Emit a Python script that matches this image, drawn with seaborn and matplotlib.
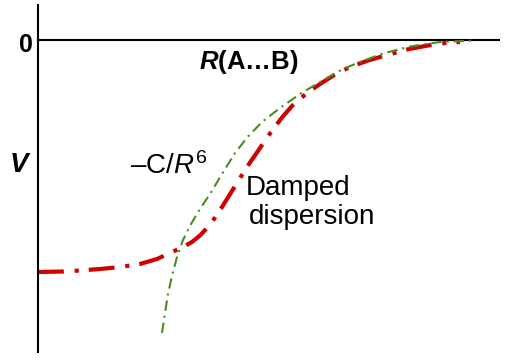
import matplotlib
matplotlib.use("Agg")
import matplotlib.pyplot as plt
import seaborn as sns
import pandas as pd

# ---- data (arbitrary units: R along x, V along y, zero at the horizontal line) ----
damped_R = [0, 2.5, 4.2, 6.2, 8.2, 10.2, 11.9, 13.2, 14.5, 15.4, 16.2, 16.9, 17.4,
            18.4, 19.4, 20.4, 21.2, 22.0, 22.8, 23.6, 24.4, 25.4, 26.9, 28.2, 29.7,
            31.2, 33.0, 34.9, 36.9, 38.7, 40.2, 42.2]
damped_V = [-23.25, -23.2, -23.1, -22.95, -22.75, -22.45, -21.95, -21.35, -20.75,
            -20.25, -19.6, -18.85, -18.25, -16.75, -15.15, -13.55, -12.3, -11.15,
            -9.95, -8.85, -7.8, -6.65, -5.35, -4.45, -3.5, -2.75, -2.1, -1.55,
            -1.0, -0.65, -0.4, -0.25]
c6_R = [12.4, 12.7, 13.0, 13.4, 13.9, 14.5, 15.3, 16.2, 17.2, 18.4, 19.7, 21.0,
        22.4, 24.2, 26.2, 28.2, 30.5, 32.2, 34.5, 37.2, 40.2, 43.7]
c6_V = [-29.35, -27.35, -25.45, -23.65, -21.75, -20.05, -18.45, -16.95, -15.45,
        -13.45, -11.35, -9.7, -8.25, -6.85, -5.45, -4.25, -2.95, -2.25, -1.4,
        -0.7, -0.25, -0.1]

label_zero = "0"
label_V = r"$\mathbfit{V}$"
label_R = r"$\mathbfit{R}$(A…B)"
label_c6 = "\u2013C/$\\mathit{R}^{\\mathrm{6}}$"
label_damped = ["Damped", "dispersion"]

sns.set_theme(style="white")
plt.rcParams["font.family"] = ["Liberation Sans", "DejaVu Sans"]
plt.rcParams["text.color"] = "black"
plt.rcParams["mathtext.fontset"] = "custom"
plt.rcParams["mathtext.rm"] = "Liberation Sans"
plt.rcParams["mathtext.it"] = "Liberation Sans:italic"
plt.rcParams["mathtext.bf"] = "Liberation Sans:bold"
plt.rcParams["mathtext.bfit"] = "Liberation Sans:italic:bold"

fig = plt.figure(figsize=(5.18, 3.60), dpi=100)
fig.patch.set_facecolor("white")
ax = fig.add_axes([38 / 518, 8 / 360, 462 / 518, 347 / 360])
ax.set_facecolor("white")

df_d = pd.DataFrame({"R": damped_R, "V": damped_V})
df_c = pd.DataFrame({"R": c6_R, "V": c6_V})

sns.lineplot(data=df_d, x="R", y="V", ax=ax, sort=False, color="#D10000",
             linewidth=3.0)
ax.lines[-1].set_dashes((6.2, 2.6, 1.0, 2.4))
ax.lines[-1].set_dash_capstyle("butt")

sns.lineplot(data=df_c, x="R", y="V", ax=ax, sort=False, color="#4E8A23",
             linewidth=1.5)
ax.lines[-1].set_dashes((5.0, 2.4, 1.0, 2.4))

ax.axhline(0, color="black", linewidth=1.5, zorder=1)

ax.set_xlim(0, 46.2)
ax.set_ylim(-31.25, 3.45)
for s in ["top", "right", "bottom"]:
    ax.spines[s].set_visible(False)
ax.spines["left"].set_color("black")
ax.spines["left"].set_linewidth(1.5)
ax.set_xticks([])
ax.set_yticks([])
ax.set_xlabel("")
ax.set_ylabel("")

ax.text(-1.25, -1.25, label_zero, ha="center", va="baseline", fontsize=18,
        fontweight="bold", clip_on=False, color="black")
ax.text(-1.75, -13.2, label_V, ha="center", va="baseline", fontsize=20,
        clip_on=False, color="black")
ax.text(21.1, -2.9, label_R, ha="center", va="baseline", fontsize=18.5,
        fontweight="bold", color="black")
ax.text(9.2, -13.4, label_c6, ha="left", va="baseline", fontsize=20,
        color="black")
ax.text(20.75, -15.55, label_damped[0], ha="left", va="baseline", fontsize=20,
        color="black")
ax.text(21.05, -18.45, label_damped[1], ha="left", va="baseline", fontsize=20,
        color="black")

fig.savefig("out.png", dpi=100, facecolor="white")
